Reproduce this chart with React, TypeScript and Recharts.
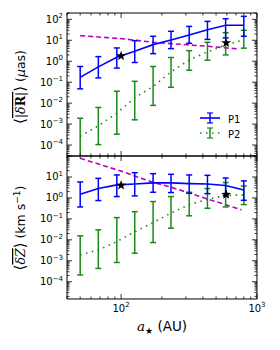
import React from 'react';
import { ComposedChart, Line, XAxis, YAxis, ErrorBar, Scatter, Legend } from 'recharts';

// ---------- data ----------
const aStar = [50, 68, 93, 126, 172, 233, 317, 432, 588, 800];

// top panel: <|dR|> (uas)
const p1RMid = [0.17, 0.54, 1.55, 3.0, 6.2, 10.4, 17.9, 32, 52, 52];
const p1RLo = [0.048, 0.16, 0.47, 0.87, 2.3, 4.0, 7.2, 11, 13, 15.5];
const p1RHi = [0.56, 1.66, 4.3, 9.6, 15.5, 26.8, 46, 80, 107, 139];
const p2RMid = [2.6e-4, 8.3e-4, 3.3e-3, 0.018, 0.062, 0.31, 1.15, 2.8, 6.0, 10.4];
const p2RLo = [1e-6, 1.05e-4, 3.3e-4, 1.6e-3, 7.8e-3, 0.057, 0.37, 1.12, 2.0, 4.2];
const p2RHi = [1.9e-3, 6.2e-3, 0.037, 0.11, 0.56, 1.5, 3.2, 8, 23, 30];
const magRX = [50, 100, 172, 317, 432, 711];
const magRY = [16.6, 12, 8.0, 6.0, 5.2, 3.9];
const starRX = [100, 593];
const starRY = [1.78, 7.5];

// bottom panel: <dZ> (km/s)
const p1ZMid = [1.5, 2.8, 4.2, 4.6, 5.2, 5.2, 4.8, 4.6, 3.9, 2.4];
const p1ZLo = [0.37, 0.75, 1.16, 1.25, 1.86, 1.8, 1.67, 1.6, 1.25, 0.77];
const p1ZHi = [5.8, 8.6, 12.5, 16, 14.4, 13.4, 12.5, 12, 8.9, 6.5];
const p2ZMid = [1.9e-3, 3.3e-3, 8.3e-3, 0.024, 0.067, 0.19, 0.48, 0.86, 1.3, 1.4];
const p2ZLo = [2.1e-4, 4.3e-4, 8.3e-4, 2.3e-3, 7.4e-3, 0.036, 0.14, 0.32, 0.37, 0.48];
const p2ZHi = [0.0155, 0.03, 0.115, 0.22, 0.67, 1.16, 1.86, 2.8, 5.4, 3.7];
const magZX = [50, 100, 172, 235, 438, 770];
const magZY = [78, 19, 5.5, 3.2, 0.87, 0.27];
const starZX = [100, 593];
const starZY = [4.0, 1.45];

const seriesNames = ['P1', 'P2'];

// ticks
const xMajor = [100, 1000];
const xMinor = [40, 50, 60, 70, 80, 90, 200, 300, 400, 500, 600, 700, 800, 900];
const yMajorR = [1e-4, 1e-3, 1e-2, 1e-1, 1, 10, 100];
const yMajorZ = [1e-4, 1e-3, 1e-2, 1e-1, 1, 10, 100];
const labelMaxR = 100;
const labelMaxZ = 10;

const X_DOMAIN: [number, number] = [40, 1000];
const R_DOMAIN: [number, number] = [3e-5, 200];
const Z_DOMAIN: [number, number] = [1.5e-5, 100];

const BLUE = '#0000ff';
const GREEN = '#1a8a1a';
const MAGENTA = '#c000c0';

const TINY = 0.01;

// ---------- helpers ----------
function minorTicks(lo: number, hi: number): number[] {
  const out: number[] = [];
  for (let e = Math.floor(Math.log10(lo)); e <= Math.ceil(Math.log10(hi)); e++) {
    for (let m = 2; m <= 9; m++) {
      const v = m * Math.pow(10, e);
      if (v >= lo && v <= hi) out.push(v);
    }
  }
  return out;
}

function buildTable(m1: number[], l1: number[], h1: number[], m2: number[], l2: number[], h2: number[]) {
  return aStar.map((x, i) => ({
    x,
    p1: m1[i],
    e1: [m1[i] - l1[i], h1[i] - m1[i]],
    p2: m2[i],
    e2: [m2[i] - l2[i], h2[i] - m2[i]],
  }));
}

function pairs(xs: number[], ys: number[]) {
  return xs.map((x, i) => ({ x, y: ys[i] }));
}

function expText(v: number) {
  const e = Math.round(Math.log10(v));
  return e < 0 ? '\u2212' + Math.abs(e) : String(e);
}

const FONT = 'DejaVu Sans, sans-serif';

const Empty = () => <g />;

const makeLeftTick = (maxLabel: number) => (props: any) => {
  const { x, y, payload } = props;
  if (payload.value > maxLabel * 1.01) return <g />;
  return (
    <text x={x} y={y + 3.5} textAnchor="end" fontSize={10} fontFamily={FONT} fill="#000">
      10<tspan dy={-4.5} fontSize={7}>{expText(payload.value)}</tspan>
    </text>
  );
};

const BottomTick = (props: any) => {
  const { x, y, payload } = props;
  return (
    <text x={x} y={y} textAnchor="middle" fontSize={10} fontFamily={FONT} fill="#000">
      10<tspan dy={-4.5} fontSize={7}>{expText(payload.value)}</tspan>
    </text>
  );
};

const StarShape = (props: any) => {
  const { cx, cy } = props;
  const pts: string[] = [];
  for (let k = 0; k < 10; k++) {
    const r = k % 2 === 0 ? 5.2 : 2.1;
    const a = -Math.PI / 2 + (k * Math.PI) / 5;
    pts.push(`${cx + r * Math.cos(a)},${cy + r * Math.sin(a)}`);
  }
  return <polygon points={pts.join(' ')} fill="#000" />;
};

const LegendBox = () => (
  <svg width={60} height={36} style={{ display: 'block' }}>
    <line x1={5} y1={10} x2={25} y2={10} stroke={BLUE} strokeWidth={1.6} />
    <line x1={15} y1={5} x2={15} y2={15} stroke={BLUE} strokeWidth={1.5} />
    <line x1={12} y1={5} x2={18} y2={5} stroke={BLUE} strokeWidth={1.2} />
    <line x1={12} y1={15} x2={18} y2={15} stroke={BLUE} strokeWidth={1.2} />
    <text x={33} y={14.5} fontSize={10} fontFamily={FONT} fill="#000">{seriesNames[0]}</text>
    <line x1={5} y1={25} x2={25} y2={25} stroke={GREEN} strokeWidth={1.6} strokeDasharray="1.5 4.5" />
    <line x1={15} y1={20} x2={15} y2={30} stroke={GREEN} strokeWidth={1.5} />
    <line x1={12} y1={20} x2={18} y2={20} stroke={GREEN} strokeWidth={1.2} />
    <line x1={12} y1={30} x2={18} y2={30} stroke={GREEN} strokeWidth={1.2} />
    <text x={33} y={29.5} fontSize={10} fontFamily={FONT} fill="#000">{seriesNames[1]}</text>
  </svg>
);

const axisStyle = { stroke: '#000', strokeWidth: 1 };
const tickStyle = { stroke: '#000', strokeWidth: 0.8 };

type PanelProps = {
  data: any[];
  mag: { x: number; y: number }[];
  stars: { x: number; y: number }[];
  yDomain: [number, number];
  yMajor: number[];
  labelMax: number;
  showXLabels: boolean;
  height: number;
  margin: { top: number; right: number; bottom: number; left: number };
  legend: boolean;
};

function Panel(p: PanelProps) {
  const yMinor = minorTicks(p.yDomain[0], p.yDomain[1]);
  const common = { type: 'number' as const, scale: 'log' as const, allowDataOverflow: true, interval: 0 as const };
  return (
    <ComposedChart width={280} height={p.height} data={p.data} margin={p.margin}>
      <XAxis xAxisId="x" dataKey="x" {...common} domain={X_DOMAIN} ticks={xMajor} height={TINY}
        tickSize={-5} tickMargin={18} axisLine={axisStyle} tickLine={tickStyle}
        tick={p.showXLabels ? BottomTick : Empty} />
      <XAxis xAxisId="xm" dataKey="x" {...common} domain={X_DOMAIN} ticks={xMinor} height={TINY}
        tickSize={-2.5} axisLine={false} tickLine={tickStyle} tick={Empty} />
      <XAxis xAxisId="xt" dataKey="x" orientation="top" {...common} domain={X_DOMAIN} ticks={xMajor} height={TINY}
        tickSize={-5} axisLine={axisStyle} tickLine={tickStyle} tick={Empty} />
      <XAxis xAxisId="xtm" dataKey="x" orientation="top" {...common} domain={X_DOMAIN} ticks={xMinor} height={TINY}
        tickSize={-2.5} axisLine={false} tickLine={tickStyle} tick={Empty} />
      <YAxis yAxisId="y" {...common} domain={p.yDomain} ticks={p.yMajor} width={TINY}
        tickSize={-5} tickMargin={9} axisLine={axisStyle} tickLine={tickStyle} tick={makeLeftTick(p.labelMax)} />
      <YAxis yAxisId="ym" {...common} domain={p.yDomain} ticks={yMinor} width={TINY}
        tickSize={-2.5} axisLine={false} tickLine={tickStyle} tick={Empty} />
      <YAxis yAxisId="yr" orientation="right" {...common} domain={p.yDomain} ticks={p.yMajor} width={TINY}
        tickSize={-5} axisLine={axisStyle} tickLine={tickStyle} tick={Empty} />
      <YAxis yAxisId="yrm" orientation="right" {...common} domain={p.yDomain} ticks={yMinor} width={TINY}
        tickSize={-2.5} axisLine={false} tickLine={tickStyle} tick={Empty} />

      <Line xAxisId="x" yAxisId="y" data={p.mag} dataKey="y" stroke={MAGENTA} strokeWidth={1.6}
        strokeDasharray="5 3" dot={false} isAnimationActive={false} />
      <Line xAxisId="x" yAxisId="y" dataKey="p2" stroke={GREEN} strokeWidth={1.6}
        strokeDasharray="1.5 4.5" dot={false} isAnimationActive={false}>
        <ErrorBar dataKey="e2" direction="y" width={3} stroke={GREEN} strokeWidth={1.5} isAnimationActive={false} />
      </Line>
      <Line xAxisId="x" yAxisId="y" dataKey="p1" stroke={BLUE} strokeWidth={1.6}
        dot={false} isAnimationActive={false}>
        <ErrorBar dataKey="e1" direction="y" width={3} stroke={BLUE} strokeWidth={1.5} isAnimationActive={false} />
      </Line>
      <Scatter xAxisId="x" yAxisId="y" data={p.stars} dataKey="y" shape={StarShape} isAnimationActive={false} />
      {p.legend && (
        <Legend layout="horizontal" verticalAlign="middle" align="center"
          wrapperStyle={{ left: 195, top: 108, width: 60, height: 36 }}
          content={() => <LegendBox />} />
      )}
    </ComposedChart>
  );
}

export default function App() {
  const topData = buildTable(p1RMid, p1RLo, p1RHi, p2RMid, p2RLo, p2RHi);
  const botData = buildTable(p1ZMid, p1ZLo, p1ZHi, p2ZMid, p2ZLo, p2ZHi);
  return (
    <div style={{ position: 'fixed', left: 0, top: 0, width: 280, height: 350, background: '#fff', fontFamily: FONT }}>
      <div style={{ position: 'absolute', left: 0, top: 150 }}>
        <Panel data={botData} mag={pairs(magZX, magZY)} stars={pairs(starZX, starZY)}
          yDomain={Z_DOMAIN} yMajor={yMajorZ} labelMax={labelMaxZ} showXLabels={true}
          height={200} margin={{ top: 6, right: 23, bottom: 51, left: 67 }} legend={false} />
      </div>
      <div style={{ position: 'absolute', left: 0, top: 0 }}>
        <Panel data={topData} mag={pairs(magRX, magRY)} stars={pairs(starRX, starRY)}
          yDomain={R_DOMAIN} yMajor={yMajorR} labelMax={labelMaxR} showXLabels={false}
          height={157} margin={{ top: 13, right: 23, bottom: 1, left: 67 }} legend={true} />
      </div>
      <svg width={280} height={350} style={{ position: 'absolute', left: 0, top: 0, pointerEvents: 'none' }}>
        <text transform="translate(25,87) rotate(-90)" textAnchor="middle" fontSize={12.5} fontFamily={FONT} fill="#000">
          <tspan fontFamily="DejaVu Serif" fontSize={15}>{'\u27E8'}</tspan>
          <tspan style={{ textDecoration: 'overline' }}>
            <tspan fontFamily="DejaVu Serif">|</tspan>
            <tspan fontFamily="DejaVu Serif" fontStyle="italic">{'\u03B4'}</tspan>
            <tspan fontFamily="DejaVu Serif" fontWeight="bold">R</tspan>
            <tspan fontFamily="DejaVu Serif">|</tspan>
          </tspan>
          <tspan fontFamily="DejaVu Serif" fontSize={15}>{'\u27E9'}</tspan>
          <tspan> (</tspan>
          <tspan fontStyle="italic">{'\u03BC'}</tspan>
          <tspan>as)</tspan>
        </text>
        <text transform="translate(25,228) rotate(-90)" textAnchor="middle" fontSize={12.5} fontFamily={FONT} fill="#000">
          <tspan fontFamily="DejaVu Serif" fontSize={15}>{'\u27E8'}</tspan>
          <tspan style={{ textDecoration: 'overline' }} fontFamily="DejaVu Serif" fontStyle="italic">{'\u03B4Z'}</tspan>
          <tspan fontFamily="DejaVu Serif" fontSize={15}>{'\u27E9'}</tspan>
          <tspan> (km s</tspan>
          <tspan dy={-5} fontSize={9}>{'\u22121'}</tspan>
          <tspan dy={5}>)</tspan>
        </text>
        <text x={162} y={331} textAnchor="middle" fontSize={13.5} fontFamily={FONT} fill="#000">
          <tspan fontFamily="DejaVu Serif" fontStyle="italic">a</tspan>
          <tspan dy={3} fontSize={9}>{'\u2605'}</tspan>
          <tspan dy={-3}> (AU)</tspan>
        </text>
      </svg>
    </div>
  );
}
